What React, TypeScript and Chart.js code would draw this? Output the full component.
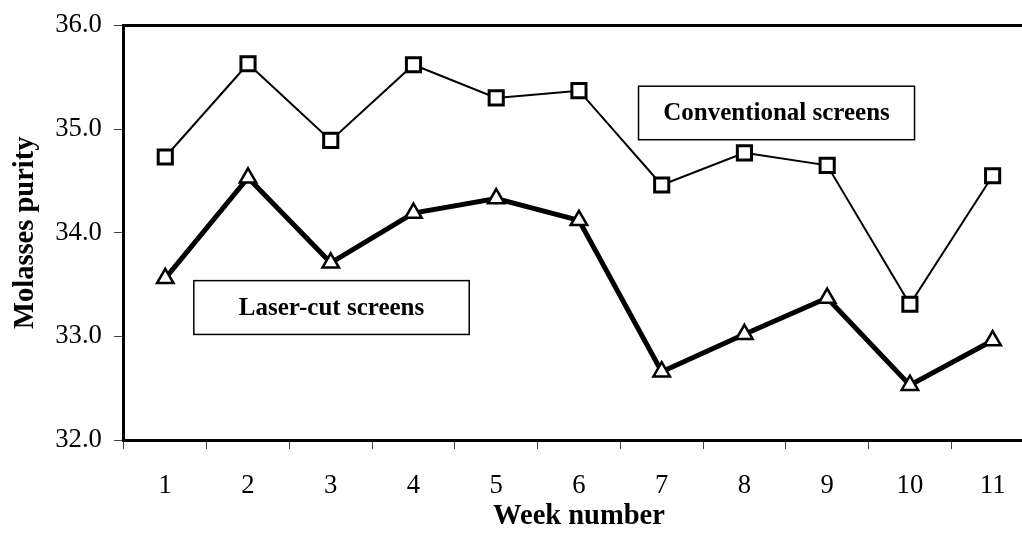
import React, { useEffect, useRef } from 'react';
import { Chart, registerables } from 'chart.js';

Chart.register(...registerables);

const weeks = [1, 2, 3, 4, 5, 6, 7, 8, 9, 10, 11];
const conventional = [34.73, 35.63, 34.89, 35.62, 35.3, 35.37, 34.46, 34.77, 34.65, 33.31, 34.55];
const laserCut = [33.56, 34.53, 33.71, 34.19, 34.33, 34.12, 32.66, 33.02, 33.37, 32.53, 32.96];
const yTicks = [32, 33, 34, 35, 36];
const seriesNames = ['Conventional screens', 'Laser-cut screens'];
const xTitle = 'Week number';
const yTitle = 'Molasses purity';

// label boxes, in data units: [xMin, xMax, yMin, yMax]
const labelBoxes: [string, number[]][] = [
  [seriesNames[0], [6.72, 10.056, 34.897, 35.413]],
  [seriesNames[1], [1.345, 4.674, 33.019, 33.538]],
];

const FONT = '"Liberation Serif", "Times New Roman", serif';
const CANVAS_W = 1047;
const CANVAS_H = 537;

const boxPlugin = {
  id: 'labelBoxes',
  afterDatasetsDraw(chart: any) {
    const { ctx, scales } = chart;
    const xs = scales.x;
    const ys = scales.y;
    ctx.save();
    labelBoxes.forEach(([text, b]) => {
      const x1 = xs.getPixelForValue(b[0]);
      const x2 = xs.getPixelForValue(b[1]);
      const y1 = ys.getPixelForValue(b[3]);
      const y2 = ys.getPixelForValue(b[2]);
      ctx.fillStyle = '#fff';
      ctx.fillRect(x1, y1, x2 - x1, y2 - y1);
      ctx.lineWidth = 1.5;
      ctx.strokeStyle = '#000';
      ctx.strokeRect(x1, y1, x2 - x1, y2 - y1);
      ctx.fillStyle = '#000';
      ctx.font = `bold 25px ${FONT}`;
      ctx.textAlign = 'center';
      ctx.textBaseline = 'middle';
      ctx.fillText(text, (x1 + x2) / 2, (y1 + y2) / 2 + 1);
    });
    ctx.restore();
  },
};

export default function App() {
  const ref = useRef<HTMLCanvasElement | null>(null);
  useEffect(() => {
    if (!ref.current) return;
    const chart = new Chart(ref.current, {
      type: 'line',
      data: {
        datasets: [
          {
            label: seriesNames[0],
            data: weeks.map((w, i) => ({ x: w, y: conventional[i] })),
            borderColor: '#000',
            borderWidth: 2,
            pointStyle: 'rect',
            pointRadius: 10,
            pointBackgroundColor: '#fff',
            pointBorderColor: '#000',
            pointBorderWidth: 3,
            tension: 0,
          },
          {
            label: seriesNames[1],
            data: weeks.map((w, i) => ({ x: w, y: laserCut[i] })),
            borderColor: '#000',
            borderWidth: 5,
            pointStyle: 'triangle',
            pointRadius: 9.5,
            pointBackgroundColor: '#fff',
            pointBorderColor: '#000',
            pointBorderWidth: 2.5,
            tension: 0,
          },
        ],
      },
      options: {
        animation: false,
        responsive: false,
        maintainAspectRatio: false,
        layout: { padding: { left: 7, top: 10.6, right: 0, bottom: 5.5 } },
        plugins: { legend: { display: false }, tooltip: { enabled: false } },
        scales: {
          x: {
            type: 'linear',
            min: 0.5,
            max: 11.5,
            afterBuildTicks: (s: any) => {
              s.ticks = weeks.map((v) => ({ value: v }));
            },
            ticks: {
              color: '#000',
              font: { family: FONT, size: 26.7, lineHeight: 1 },
              padding: 23.5,
              maxRotation: 0,
              callback: (v: any) => String(v),
            },
            grid: {
              offset: true,
              drawOnChartArea: false,
              tickLength: 9,
              color: '#444',
              lineWidth: 1,
            },
            border: { color: '#000', width: 3 },
            title: {
              display: true,
              text: xTitle,
              color: '#000',
              font: { family: FONT, size: 28.5, weight: 'bold', lineHeight: 1.2 },
              padding: { top: -23.5, bottom: -2 },
            },
          },
          y: {
            type: 'linear',
            min: 32,
            max: 36,
            afterBuildTicks: (s: any) => {
              s.ticks = yTicks.map((v) => ({ value: v }));
            },
            ticks: {
              color: '#000',
              font: { family: FONT, size: 26.7, lineHeight: 1 },
              padding: 12,
              callback: (v: any) => Number(v).toFixed(1),
            },
            grid: {
              drawOnChartArea: true,
              tickLength: 10,
              color: (c: any) => (c.tick && c.tick.value === 36 ? '#000' : 'rgba(0,0,0,0)'),
              lineWidth: (c: any) => (c.tick && c.tick.value === 36 ? 3 : 1),
              tickColor: '#444',
              tickWidth: 1,
            },
            border: { color: '#000', width: 3 },
            title: {
              display: true,
              text: yTitle,
              color: '#000',
              font: { family: FONT, size: 28.5, weight: 'bold', lineHeight: 1.2 },
              padding: { top: 2, bottom: 0 },
            },
          },
        },
      },
      plugins: [boxPlugin],
    } as any);
    return () => chart.destroy();
  }, []);
  return (
    <div style={{ position: 'fixed', left: 0, top: 0, width: 1022, height: 537, overflow: 'hidden', background: '#fff' }}>
      <canvas
        ref={ref}
        width={CANVAS_W}
        height={CANVAS_H}
        style={{ display: 'block', width: CANVAS_W, height: CANVAS_H, maxWidth: 'none' }}
      />
    </div>
  );
}
